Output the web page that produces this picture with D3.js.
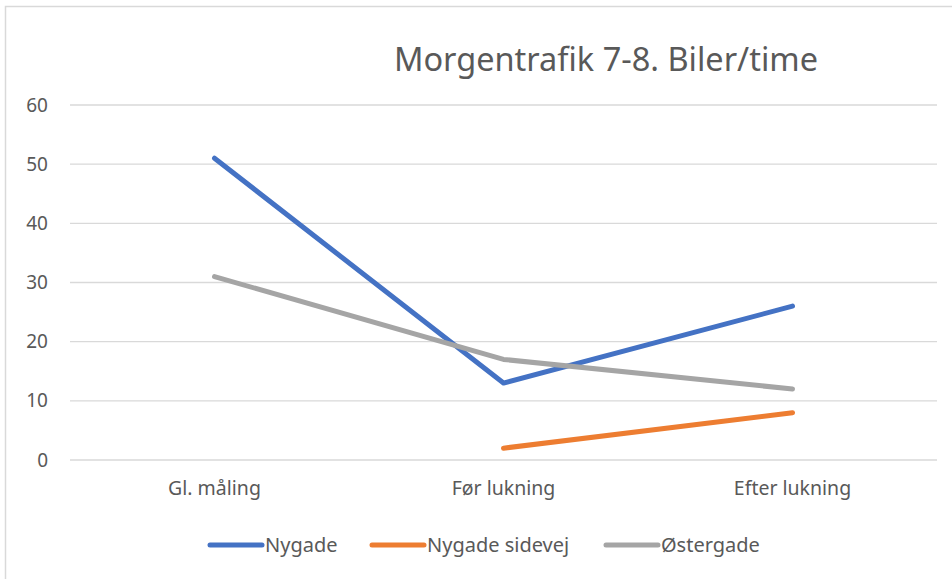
<!DOCTYPE html>
<html>
<head>
<meta charset="utf-8">
<script src="https://cdn.jsdelivr.net/npm/d3@7"></script>
<style>
  body { margin: 0; background: #fff; }
  text { font-family: "Noto Sans", "Open Sans", sans-serif; fill: #595959; }
</style>
</head>
<body>
<div id="chart"></div>
<script>
// categories and series
const categories = ["Gl. måling", "Før lukning", "Efter lukning"];
const seriesNames = ["Nygade", "Nygade sidevej", "Østergade"];
const nygade = [51, 13, 26];
const nygadeSidevej = [null, 2, 8];
const ostergade = [31, 17, 12];
const yTicks = [0, 10, 20, 30, 40, 50, 60];
const colors = ["#4472C4", "#ED7D31", "#A5A5A5"];

const width = 952, height = 579;
const svg = d3.select("#chart").append("svg")
  .attr("width", width).attr("height", height);

// chart area border (only top/left visible in the picture)
svg.append("rect")
  .attr("x", 5.5).attr("y", 6.5)
  .attr("width", 960).attr("height", 600)
  .attr("fill", "none").attr("stroke", "#d9d9d9").attr("stroke-width", 1.5);

const x = d3.scaleBand().domain(categories).range([70, 937]);
const y = d3.scaleLinear().domain([0, 60]).range([460, 105]);

// gridlines
svg.append("g")
  .selectAll("line")
  .data(yTicks)
  .enter()
  .append("line")
  .attr("x1", 70).attr("x2", 937)
  .attr("y1", d => y(d)).attr("y2", d => y(d))
  .attr("stroke", "#d9d9d9").attr("stroke-width", 1.3);

// y axis labels
const yAxis = d3.axisLeft(y).tickValues(yTicks).tickSize(0).tickPadding(0);
svg.append("g")
  .attr("transform", "translate(48,0)")
  .call(yAxis)
  .call(g => g.select(".domain").remove())
  .selectAll("text")
  .style("font-size", "19px")
  .style("font-family", "'Noto Sans', sans-serif")
  .attr("fill", "#595959");

// x axis labels
const xAxis = d3.axisBottom(x).tickSize(0).tickPadding(0);
svg.append("g")
  .attr("transform", "translate(0,481)")
  .call(xAxis)
  .call(g => g.select(".domain").remove())
  .selectAll("text")
  .style("font-size", "19.5px")
  .style("font-family", "'Noto Sans', sans-serif")
  .attr("fill", "#595959");

// title
svg.append("text")
  .attr("x", 606).attr("y", 71)
  .attr("text-anchor", "middle")
  .style("font-size", "32.5px")
  .text("Morgentrafik 7-8. Biler/time");

// lines
const allSeries = [nygade, nygadeSidevej, ostergade];
const line = d3.line()
  .defined(d => d.v !== null)
  .x(d => x(d.c) + x.bandwidth() / 2)
  .y(d => y(d.v));

allSeries.forEach((vals, i) => {
  svg.append("path")
    .datum(categories.map((c, j) => ({ c: c, v: vals[j] })))
    .attr("d", line)
    .attr("fill", "none")
    .attr("stroke", colors[i])
    .attr("stroke-width", 5)
    .attr("stroke-linecap", "round")
    .attr("stroke-linejoin", "round");
});

// legend
const legendX = [210, 372, 606];
const legend = svg.append("g");
seriesNames.forEach((name, i) => {
  legend.append("line")
    .attr("x1", legendX[i]).attr("x2", legendX[i] + 52)
    .attr("y1", 545).attr("y2", 545)
    .attr("stroke", colors[i]).attr("stroke-width", 5)
    .attr("stroke-linecap", "round");
  legend.append("text")
    .attr("x", legendX[i] + 55).attr("y", 552)
    .style("font-size", "20px")
    .text(name);
});
</script>
</body>
</html>
